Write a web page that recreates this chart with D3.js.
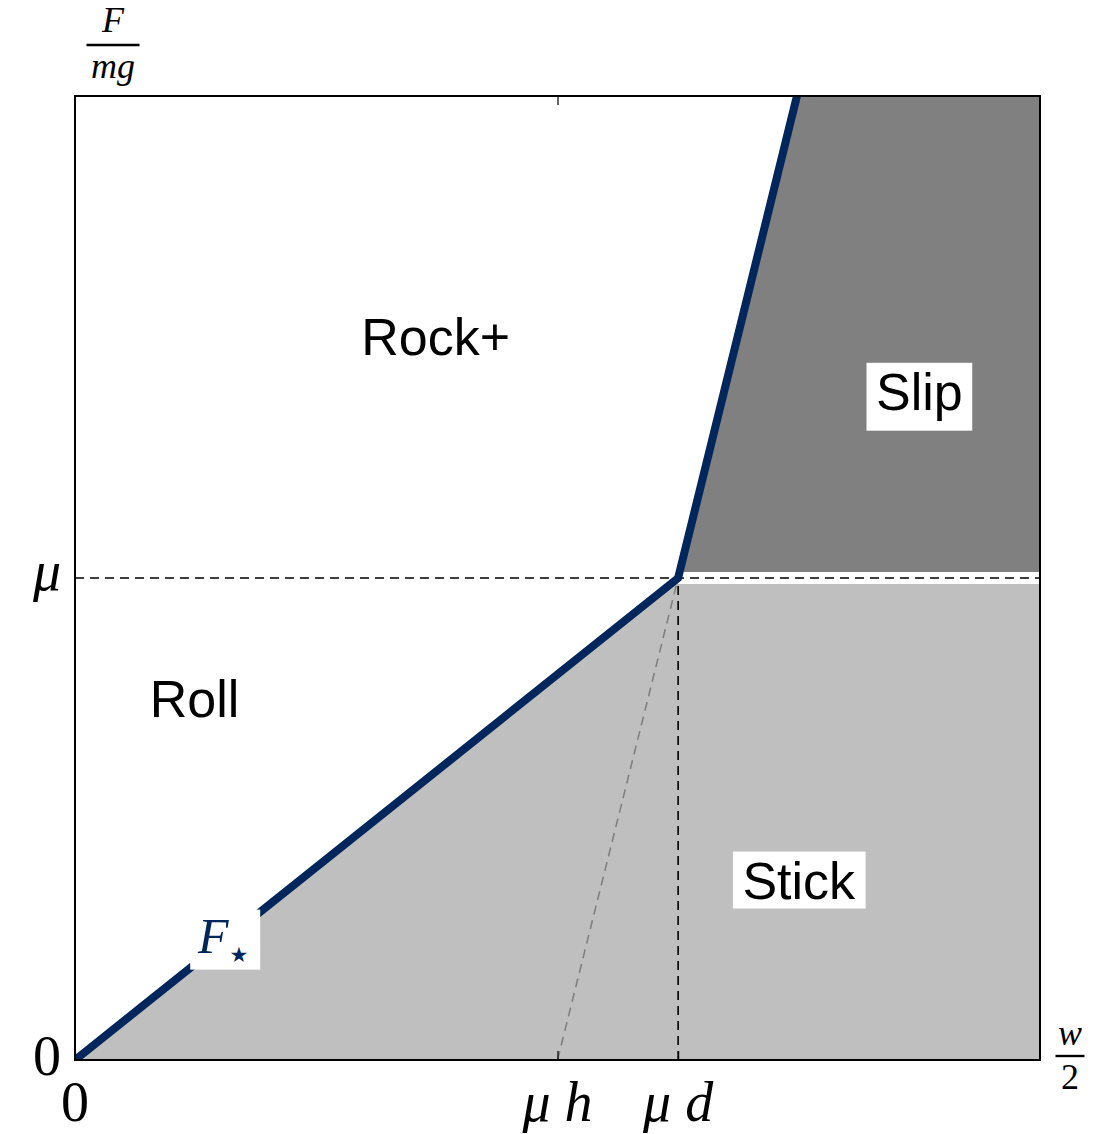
<!DOCTYPE html>
<html>
<head>
<meta charset="utf-8">
<script src="https://cdn.jsdelivr.net/npm/d3@7"></script>
<style>
  body { margin: 0; background: #fff; }
  .math { font-family: "Liberation Serif", "DejaVu Serif", serif; }
  .region { font-family: "Liberation Sans", Arial, sans-serif; font-size: 52px; }
</style>
</head>
<body>
<svg id="chart" width="1097" height="1134"></svg>
<script>
// parameters (mu = 0.5, h = 1.6, d = 2.0)
const mu = 0.5;
const muH = 0.8;
const muD = 1.0;
const xMax = 1.6;
const yMax = 1.0;

// F_star boundary
const fStarX = [0, 1.0, 1.197];
const fStarY = [0, 0.5, 1.0];

// tick values / labels
const xTickVals = [0, 0.8, 1.0];
const xTickLabels = ["0", "μ h", "μ d"];
const yTickVals = [0, 0.5];
const yTickLabels = ["0", "μ"];

// region names
const regionNames = ["Rock+", "Roll", "Slip", "Stick"];

const navy = "#01265c";
const svg = d3.select("#chart");
const margin = {left: 75, top: 96, right: 57, bottom: 74};
const W = 1097 - margin.left - margin.right;
const H = 1134 - margin.top - margin.bottom;

const x = d3.scaleLinear().domain([0, xMax]).range([margin.left, margin.left + W]);
const y = d3.scaleLinear().domain([0, yMax]).range([margin.top + H, margin.top]);

svg.append("defs").append("clipPath").attr("id", "plotclip")
  .append("rect").attr("x", x(0)).attr("y", y(yMax))
  .attr("width", W).attr("height", H);

const g = svg.append("g").attr("clip-path", "url(#plotclip)");
const line = d3.line().x(d => x(d[0])).y(d => y(d[1]));

// Stick region (below F_star and mu)
g.append("path")
  .attr("d", line([[0, 0], [fStarX[1], fStarY[1]], [xMax, mu], [xMax, 0]]) + "Z")
  .attr("fill", "#bfbfbf");

// Slip region (right of upper F_star, above mu)
g.append("path")
  .attr("d", line([[fStarX[1], fStarY[1]], [fStarX[2], fStarY[2]], [xMax, yMax], [xMax, mu]]) + "Z")
  .attr("fill", "#808080");

// white gap between the two regions
g.append("path")
  .attr("d", line([[muD, mu], [xMax, mu]]))
  .attr("stroke", "#fff").attr("stroke-width", 12);

// dashed guides
g.append("path")
  .attr("d", line([[0, mu], [xMax, mu]]))
  .attr("stroke", "#000").attr("stroke-width", 1.6)
  .attr("stroke-dasharray", "9,6").attr("fill", "none");

g.append("path")
  .attr("d", line([[muD, 0], [muD, mu]]))
  .attr("stroke", "#000").attr("stroke-width", 1.6)
  .attr("stroke-dasharray", "9,6").attr("fill", "none");

g.append("path")
  .attr("d", line([[muH, 0], [muD, mu]]))
  .attr("stroke", "#808080").attr("stroke-width", 1.6)
  .attr("stroke-dasharray", "9,6").attr("fill", "none");

// F_star line
g.append("path")
  .attr("d", line(fStarX.map((v, i) => [v, fStarY[i]])))
  .attr("stroke", navy).attr("stroke-width", 8)
  .attr("stroke-linejoin", "miter").attr("fill", "none");

// region labels with optional white boxes
function label(txt, px, py, anchor, boxed, desc) {
  const t = svg.append("text").attr("class", "region")
    .attr("x", x(px)).attr("y", y(py))
    .attr("text-anchor", anchor).text(txt);
  if (boxed) {
    const b = t.node().getBBox();
    const pad = 9.5, fs = 52;
    const top = y(py) - 0.73 * fs - pad;
    const bot = y(py) + (desc ? 0.21 * fs : 0) + pad;
    svg.insert("rect", () => t.node())
      .attr("x", b.x - pad).attr("y", top)
      .attr("width", b.width + 2 * pad).attr("height", bot - top)
      .attr("fill", "#fff");
  }
}
label(regionNames[0], 0.598, 0.731, "middle", false);
label(regionNames[1], 0.124, 0.356, "start", false);
label(regionNames[2], 1.400, 0.674, "middle", true, true);
label(regionNames[3], 1.200, 0.167, "middle", true, false);

// F_star label
svg.append("rect")
  .attr("x", x(0.191)).attr("y", y(0.156))
  .attr("width", 70).attr("height", 60)
  .attr("fill", "#fff");
const fs = svg.append("text").attr("class", "math")
  .attr("x", x(0.204)).attr("y", y(0.111))
  .attr("fill", navy).attr("font-size", 50);
fs.append("tspan").attr("font-style", "italic").text("F");
fs.append("tspan").attr("font-family", "DejaVu Sans").attr("font-size", 21)
  .attr("dx", 1).attr("dy", 9).text("★");

// axes: ticks only
const tickFmt = () => "";
svg.append("g").attr("transform", `translate(0,${y(0)})`)
  .call(d3.axisBottom(x).tickValues(xTickVals).tickSizeInner(-9).tickSizeOuter(0).tickFormat(tickFmt))
  .call(a => a.select(".domain").remove());
svg.append("g").attr("transform", `translate(0,${y(yMax)})`)
  .call(d3.axisTop(x).tickValues([muH]).tickSizeInner(-9).tickSizeOuter(0).tickFormat(tickFmt))
  .call(a => a.select(".domain").remove());
svg.selectAll(".tick line").attr("stroke", "#000").attr("stroke-width", 1.2);

// frame
svg.append("rect")
  .attr("x", x(0)).attr("y", y(yMax)).attr("width", W).attr("height", H)
  .attr("fill", "none").attr("stroke", "#000").attr("stroke-width", 2);

// tick labels
xTickLabels.forEach((s, i) => {
  const t = svg.append("text").attr("class", "math")
    .attr("x", x(xTickVals[i])).attr("y", 1121)
    .attr("text-anchor", "middle").attr("font-size", 56);
  if (i === 0) t.text(s);
  else t.attr("font-style", "italic").text(s);
});
yTickLabels.forEach((s, i) => {
  const t = svg.append("text").attr("class", "math")
    .attr("x", 61).attr("y", i === 0 ? y(yTickVals[i]) + 15 : y(yTickVals[i]) + 12)
    .attr("text-anchor", "end").attr("font-size", 56);
  if (i === 0) t.text(s);
  else t.attr("font-style", "italic").text(s);
});

// axis labels as fractions
function frac(cx, numY, barY, denY, num, den, w) {
  svg.append("text").attr("class", "math").attr("x", cx).attr("y", numY)
    .attr("text-anchor", "middle").attr("font-size", 36)
    .attr("font-style", /\d/.test(num) ? "normal" : "italic").text(num);
  svg.append("line").attr("x1", cx - w / 2).attr("x2", cx + w / 2)
    .attr("y1", barY).attr("y2", barY).attr("stroke", "#000").attr("stroke-width", 2.4);
  svg.append("text").attr("class", "math").attr("x", cx).attr("y", denY)
    .attr("text-anchor", "middle").attr("font-size", 36)
    .attr("font-style", /\d/.test(den) ? "normal" : "italic").text(den);
}
frac(113, 32, 45, 78, "F", "mg", 53);
frac(1070, 1045, 1056, 1089, "w", "2", 29);
</script>
</body>
</html>
